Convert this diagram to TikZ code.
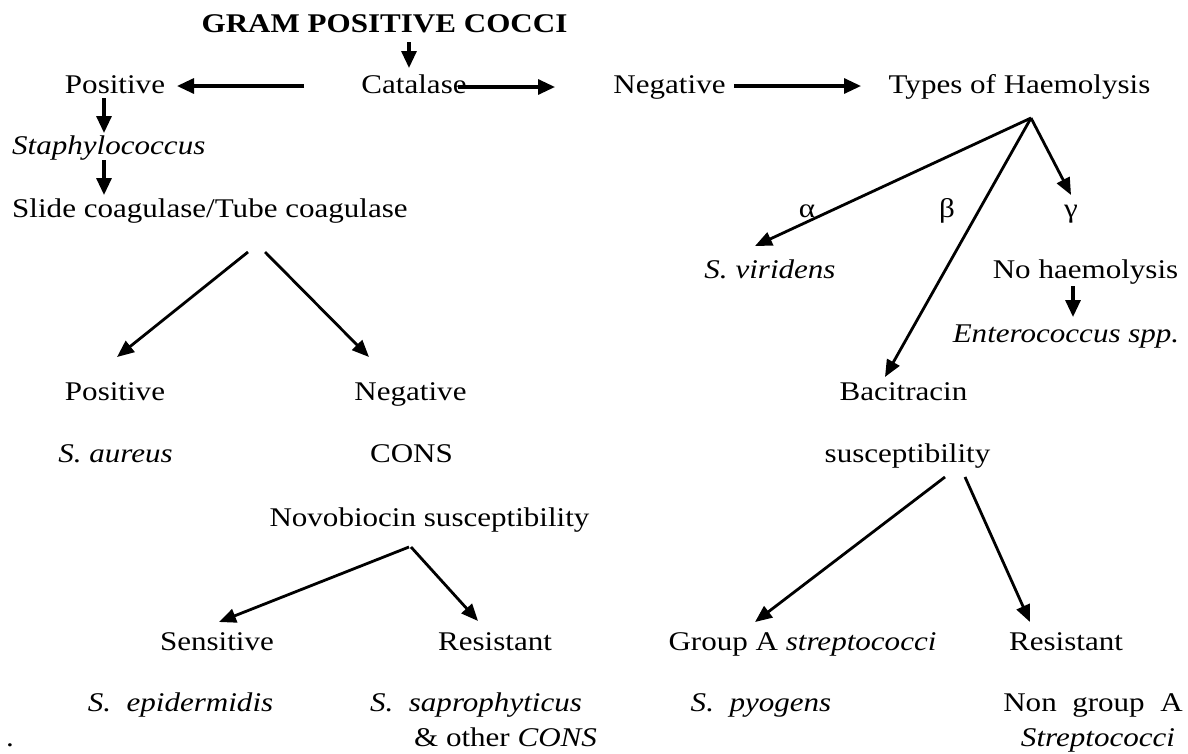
\documentclass[tikz,border=0pt]{standalone}
\usepackage{fontspec}
\setmainfont{Liberation Serif}[FakeStretch=1.15]
\usetikzlibrary{arrows.meta}
\begin{document}
\begin{tikzpicture}[x=1pt,y=-1pt,
  txt/.style={inner sep=0pt, anchor=base, font=\fontsize{27}{32}\selectfont},
  txtw/.style={txt, anchor=base west},
  arr/.style={line width=3.2pt, -{Triangle[length=17pt,width=15pt]}},
  darr/.style={line width=2.8pt, -{Triangle[length=17pt,width=14pt]}}]
\useasboundingbox[fill=white] (0,0) rectangle (1188,753);

% ---- nodes ----
\node[txt] (gram) at (384.5,32) {\bfseries GRAM POSITIVE COCCI};
\node[txt] (pos1) at (115,93) {Positive};
\node[txt] (cat) at (414,93) {Catalase};
\node[txt] (neg1) at (669.5,93) {Negative};
\node[txt] (types) at (1019.5,93) {Types of Haemolysis};
\node[txtw] (staph) at (12,154) {\itshape Staphylococcus};
\node[txtw] (slide) at (12,217) {Slide coagulase/Tube coagulase};
\node[txt] (pos2) at (115,400) {Positive};
\node[txt] (neg2) at (410.5,400) {Negative};
\node[txt] (aur) at (115.5,462) {\itshape S. aureus};
\node[txt] (cons) at (411.5,462) {CONS};
\node[txt] (novo) at (429.5,526) {Novobiocin susceptibility};
\node[txt] (sens) at (217,650) {Sensitive};
\node[txt] (res1) at (495,650) {Resistant};
\node[txt] (epi) at (180.5,711) {\itshape S.~~epidermidis};
\node[txt] (sap) at (476,711) {\itshape S.~~saprophyticus};
\node[txt] (other) at (505.5,746) {\& other \textit{CONS}};
\node[txt] (dot) at (10,746) {.};

\node[txt] (alpha) at (807,217) {α};
\node[txt] (beta) at (947,217) {β};
\node[txt] (gamma) at (1071,217) {γ};
\node[txt] (vir) at (770,278) {\itshape S. viridens};
\node[txt] (noh) at (1085.5,278) {No haemolysis};
\node[txt] (ent) at (1066,342) {\itshape Enterococcus spp.};
\node[txt] (bac) at (903.5,400) {Bacitracin};
\node[txt] (susc) at (907.5,462) {susceptibility};
\node[txt] (grpa) at (802.5,650) {Group A \textit{streptococci}};
\node[txt] (res2) at (1066,650) {Resistant};
\node[txt] (pyo) at (761,711) {\itshape S.~~pyogens};
\node[txt] (nga) at (1093,711) {Non~~group~~A};
\node[txt] (strep) at (1098,746) {\itshape Streptococci};

% ---- connectors ----
\draw[arr] ([xshift=24.5pt,yshift=-10pt]gram.base) -- ([xshift=-5pt,yshift=25pt]cat.base);
\draw[arr] ([xshift=-110pt,yshift=7pt]cat.base) -- ([xshift=62pt,yshift=7pt]pos1.base);
\draw[arr] ([xshift=44pt,yshift=6pt]cat.base) -- ([xshift=-114.5pt,yshift=6pt]neg1.base);
\draw[arr] ([xshift=64.5pt,yshift=7pt]neg1.base) -- ([xshift=-158.5pt,yshift=7pt]types.base);
\draw[arr] ([xshift=-11pt,yshift=-5pt]pos1.base) -- ([xshift=92pt,yshift=21pt]staph.base west);
\draw[arr] ([xshift=92pt,yshift=-6pt]staph.base west) -- ([xshift=92pt,yshift=22pt]slide.base west);
\draw[darr] ([xshift=236pt,yshift=-35pt]slide.base west) -- ([xshift=2pt,yshift=43pt]pos2.base);
\draw[darr] ([xshift=253pt,yshift=-35pt]slide.base west) -- ([xshift=-41.5pt,yshift=43pt]neg2.base);
\draw[darr] ([xshift=-20.5pt,yshift=-21pt]novo.base) -- ([xshift=2pt,yshift=28pt]sens.base);
\draw[darr] ([xshift=-18.5pt,yshift=-21pt]novo.base) -- ([xshift=-17pt,yshift=29pt]res1.base);
\draw[darr] ([xshift=11.5pt,yshift=-25pt]types.base) -- ([xshift=-15pt,yshift=32pt]vir.base);
\draw[darr] ([xshift=11.5pt,yshift=-25pt]types.base) -- ([xshift=-18.5pt,yshift=23pt]bac.base);
\draw[darr] ([xshift=11.5pt,yshift=-25pt]types.base) -- ([yshift=22pt]gamma.base);
\draw[arr] ([xshift=-12.5pt,yshift=-8pt]noh.base) -- ([xshift=7pt,yshift=25pt]ent.base);
\draw[darr] ([xshift=37.5pt,yshift=-15pt]susc.base) -- ([xshift=-47.5pt,yshift=28pt]grpa.base);
\draw[darr] ([xshift=57.5pt,yshift=-15pt]susc.base) -- ([xshift=-36pt,yshift=28pt]res2.base);
\end{tikzpicture}
\end{document}
